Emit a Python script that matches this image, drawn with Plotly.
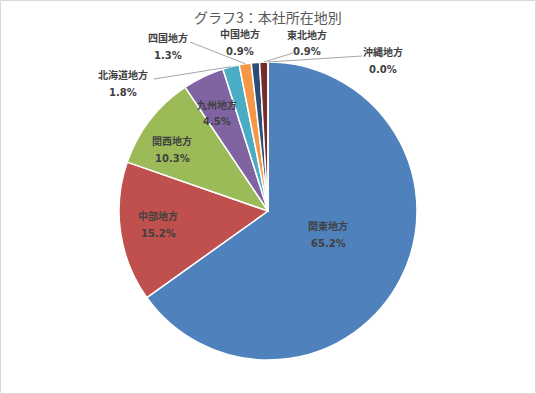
import math
import plotly.graph_objects as go

# ---- data ----
regions = ["関東地方", "中部地方", "関西地方", "九州地方", "北海道地方",
           "四国地方", "中国地方", "東北地方", "沖縄地方"]
shares = [65.2, 15.2, 10.3, 4.5, 1.8, 1.3, 0.9, 0.9, 0.0]
colors = ["#4F81BD", "#C0504D", "#9BBB59", "#8064A2", "#4BACC6",
          "#F79646", "#2C4D75", "#772C2A", "#5F7530"]
title_text = "グラフ3：本社所在地別"

# ---- layout geometry (pixels) ----
W, H = 536, 394
CX, CY, R = 268, 211, 149

# label placement (pixel centers of name line); pct line sits below
label_pos = {
    "関東地方": (328, 226),
    "中部地方": (158, 216),
    "関西地方": (172, 141),
    "九州地方": (217, 105),
    "北海道地方": (123, 75),
    "四国地方": (168, 38),
    "中国地方": (240, 34),
    "東北地方": (307, 35),
    "沖縄地方": (383, 52),
}
LINE_GAP = 17
# leader line start points for outside labels
leader_start = {
    "北海道地方": (154, 79),
    "四国地方": (190, 42),
    "東北地方": (293, 53),
    "沖縄地方": (362, 56),
}


def px(x):
    return x / W


def py(y):
    return 1 - y / H


fig = go.Figure(go.Pie(
    labels=regions, values=shares, sort=False, direction="clockwise",
    rotation=0, textinfo="none", hoverinfo="label+percent",
    marker=dict(colors=colors, line=dict(color="white", width=1.5)),
    domain=dict(x=[px(CX - R), px(CX + R)], y=[py(CY + R), py(CY - R)]),
    showlegend=False,
))

annotations = []
font = dict(family="DejaVu Sans, Noto Sans CJK JP, sans-serif", size=10,
            color="#404040", weight="bold")
for name, v in zip(regions, shares):
    x, y = label_pos[name]
    annotations.append(dict(x=px(x), y=py(y), xref="paper", yref="paper",
                            text=name, showarrow=False, font=font,
                            xanchor="center", yanchor="middle"))
    annotations.append(dict(x=px(x), y=py(y + LINE_GAP), xref="paper", yref="paper",
                            text=f"{v:.1f}%", showarrow=False, font=font,
                            xanchor="center", yanchor="middle"))

annotations.append(dict(x=px(CX), y=py(17), xref="paper", yref="paper",
                        text=title_text, showarrow=False,
                        font=dict(family="Noto Sans CJK JP, sans-serif", size=14,
                                  color="#595959"),
                        xanchor="center", yanchor="middle"))

shapes = []
total = sum(shares)
cum = 0.0
for name, v in zip(regions, shares):
    mid = (cum + v / 2) / total * 2 * math.pi
    cum += v
    if name in leader_start:
        ex = CX + R * math.sin(mid)
        ey = CY - R * math.cos(mid)
        sx, sy = leader_start[name]
        shapes.append(dict(type="line", xref="paper", yref="paper",
                           x0=px(sx), y0=py(sy), x1=px(ex), y1=py(ey),
                           line=dict(color="#A6A6A6", width=1)))

shapes.append(dict(type="rect", xref="paper", yref="paper",
                   x0=px(0.5), y0=py(H - 0.5), x1=px(W - 0.5), y1=py(0.5),
                   line=dict(color="#D9D9D9", width=1)))

fig.update_layout(
    width=W, height=H, margin=dict(l=0, r=0, t=0, b=0),
    paper_bgcolor="white", plot_bgcolor="white",
    annotations=annotations, shapes=shapes,
)

fig.write_html("out.html")
